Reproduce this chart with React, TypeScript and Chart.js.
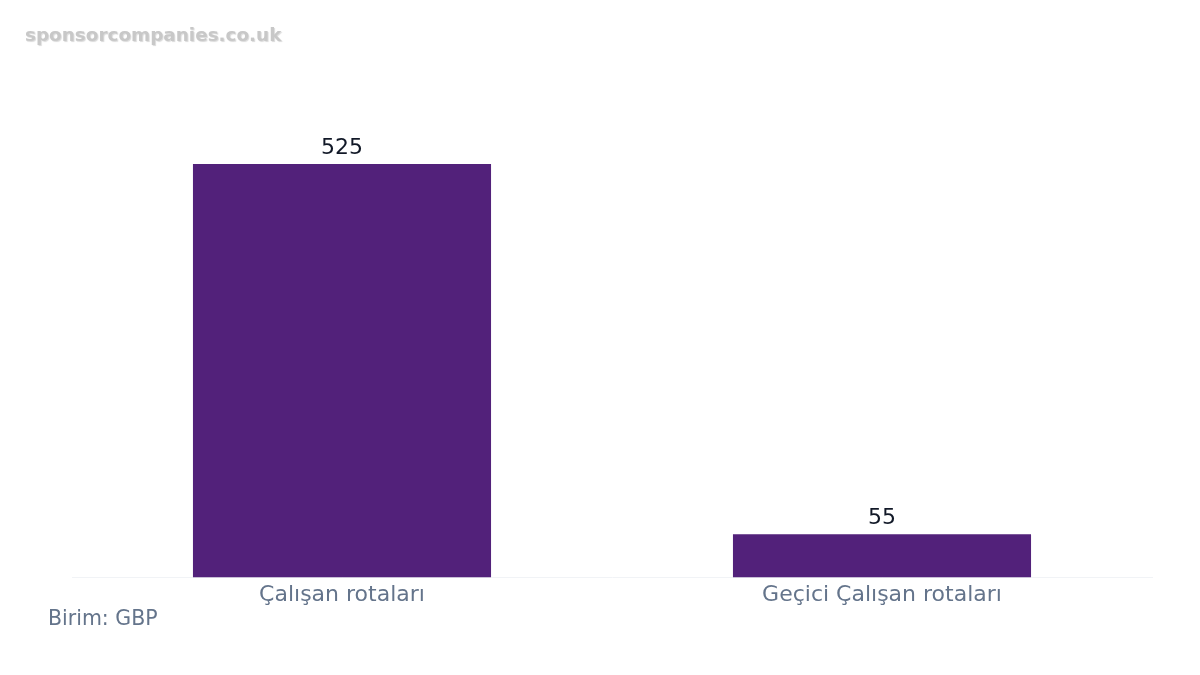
import { useEffect, useRef } from 'react';
import { Chart, registerables } from 'chart.js';

Chart.register(...registerables);

const categories = ['Çalışan rotaları', 'Geçici Çalışan rotaları'];
const values = [525, 55];
const unitNote = 'Birim: GBP';
const watermark = 'sponsorcompanies.co.uk';

const FONT = '"DejaVu Sans", sans-serif';

// value labels above bars + footnote + watermark
const overlayPlugin = {
    id: 'overlay',
    afterDatasetsDraw(chart: any) {
        const ctx = chart.ctx;
        const meta = chart.getDatasetMeta(0);
        ctx.save();
        ctx.font = `22px ${FONT}`;
        ctx.fillStyle = '#111827';
        ctx.textAlign = 'center';
        ctx.textBaseline = 'alphabetic';
        meta.data.forEach((bar: any, i: number) => {
            ctx.fillText(String(values[i]), bar.x, bar.y - 10);
        });

        ctx.font = `20.5px ${FONT}`;
        ctx.fillStyle = '#64748b';
        ctx.textAlign = 'left';
        ctx.textBaseline = 'middle';
        ctx.fillText(unitNote, 48, 620);

        ctx.font = `bold 18.4px ${FONT}`;
        ctx.shadowColor = 'rgba(0,0,0,0.15)';
        ctx.shadowOffsetX = 1;
        ctx.shadowOffsetY = 1;
        ctx.shadowBlur = 1;
        ctx.fillStyle = '#c8c8c8';
        ctx.fillText(watermark, 25, 36);
        ctx.restore();
    },
};

export default function App() {
    const canvasRef = useRef<HTMLCanvasElement>(null);
    const chartRef = useRef<Chart | null>(null);

    useEffect(() => {
        if (!canvasRef.current) return;
        const ctx = canvasRef.current.getContext('2d');
        if (!ctx) return;

        if (chartRef.current) {
            chartRef.current.destroy();
        }

        chartRef.current = new Chart(ctx, {
            type: 'bar',
            data: {
                labels: categories,
                datasets: [{
                    data: values,
                    backgroundColor: '#52217a',
                    borderWidth: 0,
                    barPercentage: 0.552,
                    categoryPercentage: 1,
                }],
            },
            options: {
                animation: false,
                responsive: true,
                maintainAspectRatio: false,
                layout: { padding: { left: 72, right: 48, top: 105, bottom: 63 } },
                plugins: {
                    legend: { display: false },
                    tooltip: { enabled: false },
                },
                scales: {
                    x: {
                        grid: { display: false, drawTicks: false },
                        border: { display: true, color: '#f1f3f6', width: 1 },
                        ticks: {
                            color: '#64748b',
                            font: { family: FONT, size: 22 },
                            padding: 4,
                        },
                    },
                    y: {
                        display: false,
                        min: 0,
                        max: 600,
                    },
                },
            },
            plugins: [overlayPlugin],
        });

        return () => {
            if (chartRef.current) {
                chartRef.current.destroy();
                chartRef.current = null;
            }
        };
    }, []);

    return (
        <div style={{ position: 'fixed', left: 0, top: 0, width: 1200, height: 675, background: '#fff' }}>
            <canvas ref={canvasRef}></canvas>
        </div>
    );
}
